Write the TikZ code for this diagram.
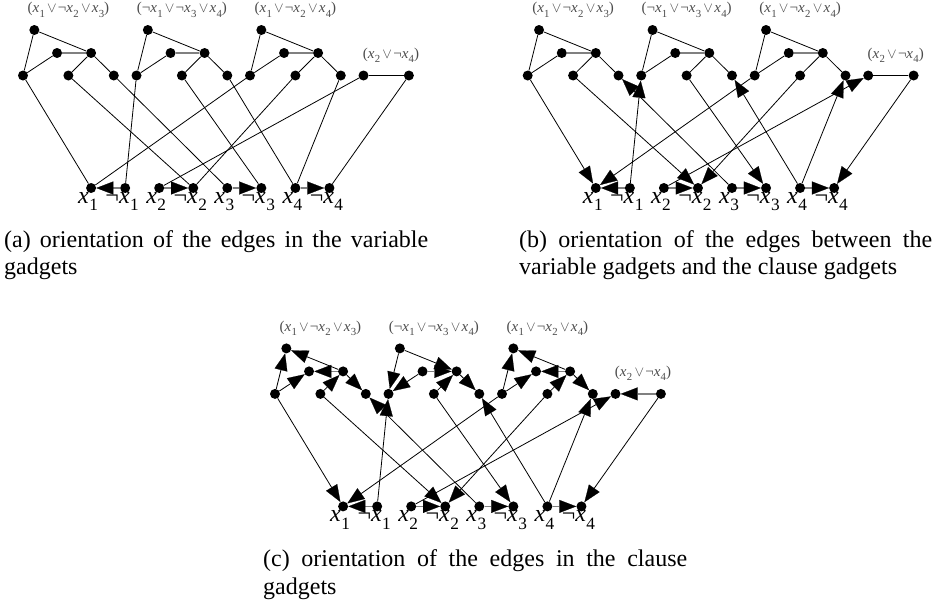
\documentclass[tikz,border=0pt]{standalone}
\usepackage{fontspec}
\setmainfont{Liberation Serif}
\usepackage{graphicx}
\usetikzlibrary{arrows.meta}
\pgfdeclarelayer{bg}
\pgfsetlayers{bg,main}
\newcommand\xv[1]{\textit{x}\kern0.02em\raisebox{-0.3em}{\scalebox{0.72}{#1}}}
\newcommand\cvee{\kern0.15em$\vee$\kern0.08em}
\def\xo{23}
\def\uu{22.7}
\tikzset{
  dot/.style={circle,fill=black,inner sep=0pt,minimum size=10pt},
  ed/.style={line width=0.8pt,draw=black},
  ged/.style={line width=1.3pt,draw=black!50},
  ar/.style={-{Triangle[length=17pt,width=13pt,color=black,fill=black,line width=0.2pt]}},
  clab/.style={anchor=base,inner sep=0pt,text=black!70,font=\fontsize{15}{17}\selectfont},
  vlab/.style={anchor=base,inner sep=0pt,font=\fontsize{24}{28}\selectfont},
  captext/.style={anchor=base west,inner sep=0pt,font=\fontsize{24}{27}\selectfont},
}
\newcommand\gadgetnodes[3]{%
 \begin{scope}[shift={(#2,#3)}]
  \foreach \k/\s in {1/0,2/5,3/10}{
   \node[dot] (#1T\k) at ({\xo+\uu*(\s+0.5)},30) {};
   \node[dot] (#1M\k) at ({\xo+\uu*(\s+1.5)},53) {};
   \node[dot] (#1R\k) at ({\xo+\uu*(\s+3)},53) {};
   \node[dot] (#1A\k) at ({\xo+\uu*(\s)},75.5) {};
   \node[dot] (#1B\k) at ({\xo+\uu*(\s+2)},75.5) {};
   \node[dot] (#1C\k) at ({\xo+\uu*(\s+4)},75.5) {};
  }
  \node[dot] (#1D) at ({\xo+\uu*15},75.5) {};
  \node[dot] (#1E) at ({\xo+\uu*17},75.5) {};
  \node[dot] (#1X1) at ({\xo+\uu*3},188) {};
  \node[dot] (#1N1) at ({\xo+\uu*4.5},188) {};
  \node[dot] (#1X2) at ({\xo+\uu*6},188) {};
  \node[dot] (#1N2) at ({\xo+\uu*7.5},188) {};
  \node[dot] (#1X3) at ({\xo+\uu*9},188) {};
  \node[dot] (#1N3) at ({\xo+\uu*10.5},188) {};
  \node[dot] (#1X4) at ({\xo+\uu*12},188) {};
  \node[dot] (#1N4) at ({\xo+\uu*13.5},188) {};
  \node[clab] (#1L1) at ({\xo+\uu*2},12.7) {(\xv{1}\cvee¬\xv{2}\cvee\xv{3})};
  \node[clab] (#1L2) at ({\xo+\uu*7},12.7) {(¬\xv{1}\cvee¬\xv{3}\cvee\xv{4})};
  \node[clab] (#1L3) at ({\xo+\uu*12},12.7) {(\xv{1}\cvee¬\xv{2}\cvee\xv{4})};
  \node[clab] (#1L4) at (391,58) {(\xv{2}\cvee¬\xv{4})};
 \end{scope}
 \node[vlab] (#1lx1) at ([xshift=-3pt,yshift=-15.5pt]#1X1.center) {\xv{1}};
 \node[vlab] (#1ln1) at ([xshift=-3pt,yshift=-15.5pt]#1N1.center) {¬\xv{1}};
 \node[vlab] (#1lx2) at ([xshift=-3pt,yshift=-15.5pt]#1X2.center) {\xv{2}};
 \node[vlab] (#1ln2) at ([xshift=-3pt,yshift=-15.5pt]#1N2.center) {¬\xv{2}};
 \node[vlab] (#1lx3) at ([xshift=-3pt,yshift=-15.5pt]#1X3.center) {\xv{3}};
 \node[vlab] (#1ln3) at ([xshift=-3pt,yshift=-15.5pt]#1N3.center) {¬\xv{3}};
 \node[vlab] (#1lx4) at ([xshift=-3pt,yshift=-15.5pt]#1X4.center) {\xv{4}};
 \node[vlab] (#1ln4) at ([xshift=-3pt,yshift=-15.5pt]#1N4.center) {¬\xv{4}};
}
\newcommand\clauseplain[1]{%
 \foreach \k in {1,2,3}{
  \draw[ed] (#1T\k) -- (#1A\k);
  \draw[ed] (#1T\k) -- (#1R\k);
  \draw[ed] (#1A\k) -- (#1M\k);
  \draw[ged] (#1M\k) -- (#1R\k);
  \draw[ed] (#1R\k) -- (#1B\k);
  \draw[ed] (#1R\k) -- (#1C\k);
 }
 \draw[ed] (#1D) -- (#1E);
}
\newcommand\varedges[1]{%
 \draw[ged,ar] (#1N1) -- (#1X1);
 \draw[ged,ar] (#1X2) -- (#1N2);
 \draw[ged,ar] (#1X3) -- (#1N3);
 \draw[ged,ar] (#1X4) -- (#1N4);
}
\newcommand\cvplain[1]{%
 \draw[ed] (#1A1) -- (#1X1);
 \draw[ed] (#1B1) -- (#1N2);
 \draw[ed] (#1C1) -- (#1X3);
 \draw[ed] (#1A2) -- (#1N1);
 \draw[ed] (#1B2) -- (#1N3);
 \draw[ed] (#1C2) -- (#1X4);
 \draw[ed] (#1A3) -- (#1X1);
 \draw[ed] (#1B3) -- (#1N2);
 \draw[ed] (#1C3) -- (#1X4);
 \draw[ed] (#1D) -- (#1X2);
 \draw[ed] (#1E) -- (#1N4);
}
\newcommand\cvdir[1]{%
 \draw[ed,ar] (#1A1) -- (#1X1);
 \draw[ed,ar] (#1B1) -- (#1N2);
 \draw[ed,ar] (#1X3) -- (#1C1);
 \draw[ed,ar] (#1N1) -- (#1A2);
 \draw[ed,ar] (#1B2) -- (#1N3);
 \draw[ed,ar] (#1X4) -- (#1C2);
 \draw[ed,ar] (#1A3) -- (#1X1);
 \draw[ed,ar] (#1B3) -- (#1N2);
 \draw[ed,ar] (#1X4) -- (#1C3);
 \draw[ed,ar] (#1X2) -- (#1D);
 \draw[ed,ar] (#1E) -- (#1N4);
}
\begin{document}
\begin{tikzpicture}[x=1pt,y=-1pt]
\useasboundingbox (0,0) rectangle (937,605);
\gadgetnodes{a}{0}{0}
\gadgetnodes{b}{504.7}{0}
\gadgetnodes{c}{252}{318.4}
\begin{pgfonlayer}{bg}
 % panel (a)
 \clauseplain{a}
 \cvplain{a}
 \varedges{a}
 % panel (b)
 \clauseplain{b}
 \cvdir{b}
 \varedges{b}
 % panel (c)
 \draw[ed,ar] (cA1) -- (cT1);
 \draw[ed,ar] (cR1) -- (cT1);
 \draw[ed,ar] (cA1) -- (cM1);
 \draw[ged,ar] (cR1) -- (cM1);
 \draw[ed,ar] (cB1) -- (cR1);
 \draw[ed,ar] (cR1) -- (cC1);
 \draw[ed,ar] (cT2) -- (cA2);
 \draw[ed,ar] (cT2) -- (cR2);
 \draw[ed,ar] (cM2) -- (cA2);
 \draw[ged,ar] (cM2) -- (cR2);
 \draw[ed,ar] (cB2) -- (cR2);
 \draw[ed,ar] (cR2) -- (cC2);
 \draw[ed,ar] (cA3) -- (cT3);
 \draw[ed,ar] (cR3) -- (cT3);
 \draw[ed,ar] (cA3) -- (cM3);
 \draw[ged,ar] (cR3) -- (cM3);
 \draw[ed,ar] (cB3) -- (cR3);
 \draw[ed,ar] (cR3) -- (cC3);
 \draw[ged,ar] (cE) -- (cD);
 \cvdir{c}
 \varedges{c}
\end{pgfonlayer}
\node[captext] (capa1) at (4,247.3) {\makebox[424pt][s]{(a) orientation of the edges in the variable}};
\node[captext] (capa2) at (4,274.3) {gadgets};
\node[captext] (capb1) at (519,247.3) {\makebox[413pt][s]{(b) orientation of the edges between the}};
\node[captext] (capb2) at (519,274.3) {variable gadgets and the clause gadgets};
\node[captext] (capc1) at (263,566.7) {\makebox[424pt][s]{(c) orientation of the edges in the clause}};
\node[captext] (capc2) at (263,594.5) {gadgets};
\end{tikzpicture}
\end{document}
